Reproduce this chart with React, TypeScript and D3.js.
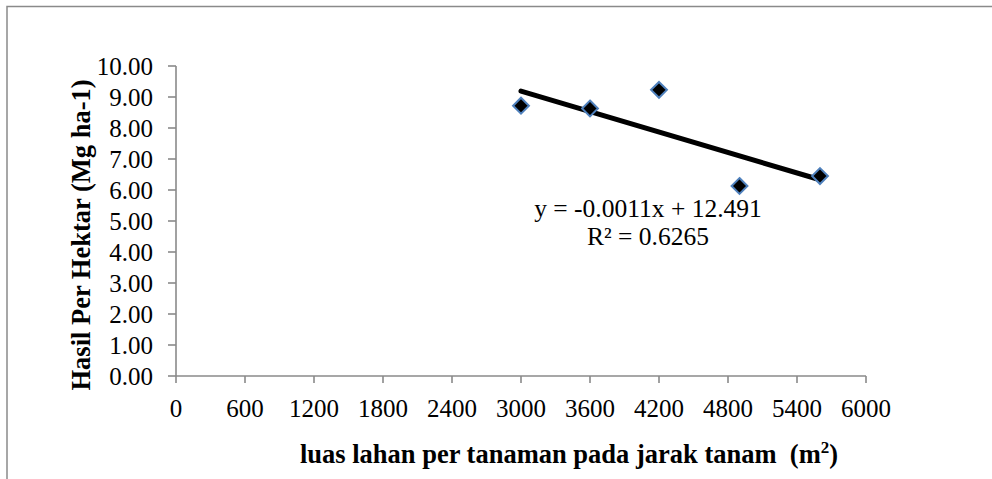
import React from "react";
import * as d3 from "d3";

const xValues = [3000, 3600, 4200, 4900, 5600];
const yValues = [8.72, 8.63, 9.23, 6.13, 6.45];
const xTicks = [0, 600, 1200, 1800, 2400, 3000, 3600, 4200, 4800, 5400, 6000];
const yTicks = [0, 1, 2, 3, 4, 5, 6, 7, 8, 9, 10];
const trendSlope = -0.0011;
const trendIntercept = 12.491;
const trendRange = [3000, 5600];
const equationText = "y = -0.0011x + 12.491";
const r2Text = "R² = 0.6265";
const xTitle = "luas lahan per tanaman pada jarak tanam  (m";
const yTitle = "Hasil Per Hektar (Mg ha-1)";

const W = 992;
const H = 479;
const FONT = "'Liberation Serif', 'Times New Roman', serif";
const AXIS = "#8a8a8a";

export default function App() {
  const x = d3.scaleLinear().domain([0, 6000]).range([176, 866]);
  const y = d3.scaleLinear().domain([0, 10]).range([376, 66]);
  const line = d3
    .line<number>()
    .x((d) => x(d))
    .y((d) => y(trendSlope * d + trendIntercept));
  const diamond = d3.symbol().type(d3.symbolDiamond2).size(160)();

  return (
    <svg
      width={W}
      height={H}
      style={{ position: "absolute", left: 0, top: 0, background: "#fff" }}
      fontFamily={FONT}
    >
      <rect x={0} y={0} width={W} height={H} fill="#fff" />
      <rect x={7} y={6.5} width={W + 20} height={H + 20} fill="none" stroke={AXIS} strokeWidth={1.5} />

      {/* y axis */}
      <line x1={x(0)} x2={x(0)} y1={y(10)} y2={y(0)} stroke={AXIS} strokeWidth={1.6} />
      {yTicks.map((t) => (
        <g key={"y" + t}>
          <line x1={x(0) - 8} x2={x(0)} y1={y(t)} y2={y(t)} stroke={AXIS} strokeWidth={1.6} />
          <text x={153} y={y(t) + 8.5} textAnchor="end" fontSize={25} fill="#000">
            {t.toFixed(2)}
          </text>
        </g>
      ))}

      {/* x axis */}
      <line x1={x(0)} x2={x(6000)} y1={y(0)} y2={y(0)} stroke={AXIS} strokeWidth={1.6} />
      {xTicks.map((t) => (
        <g key={"x" + t}>
          <line x1={x(t)} x2={x(t)} y1={y(0)} y2={y(0) + 7} stroke={AXIS} strokeWidth={1.6} />
          <text x={x(t)} y={417} textAnchor="middle" fontSize={25} fill="#000">
            {t}
          </text>
        </g>
      ))}

      {/* trendline */}
      <path d={line(trendRange) || ""} fill="none" stroke="#000" strokeWidth={5} strokeLinecap="round" />

      {/* points */}
      {xValues.map((v, i) => (
        <path
          key={"p" + i}
          d={diamond || ""}
          transform={`translate(${x(v)},${y(yValues[i])})`}
          fill="#000"
          stroke="#4f81bd"
          strokeWidth={2}
        />
      ))}

      {/* equation */}
      <text x={648} y={217} textAnchor="middle" fontSize={25.5} fill="#000">
        {equationText}
      </text>
      <text x={648} y={245} textAnchor="middle" fontSize={25.5} fill="#000">
        {r2Text}
      </text>

      {/* titles */}
      <text
        x={569}
        y={463}
        textAnchor="middle"
        fontSize={26.5}
        fontWeight="bold"
        fill="#000"
        style={{ whiteSpace: "pre" }}
      >
        {xTitle}
        <tspan dy={-10} fontSize={17}>2</tspan>
        <tspan dy={10}>)</tspan>
      </text>
      <text
        transform={`translate(90,235) rotate(-90)`}
        textAnchor="middle"
        fontSize={26.5}
        fontWeight="bold"
        fill="#000"
      >
        {yTitle}
      </text>
    </svg>
  );
}
